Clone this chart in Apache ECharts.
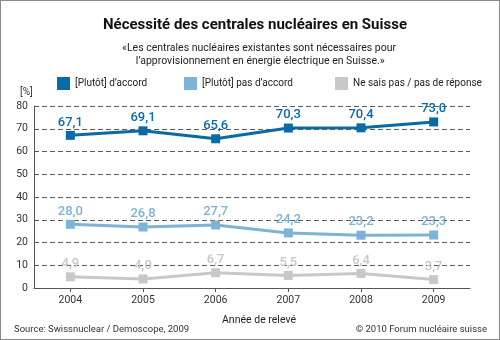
<!DOCTYPE html>
<html>
<head>
<meta charset="utf-8">
<script src="https://cdn.jsdelivr.net/npm/echarts@6/dist/echarts.min.js"></script>
<style>
  html, body { margin: 0; padding: 0; background: #fff; }
  #frame { width: 500px; height: 340px; box-sizing: border-box; border: 1px solid #8a8a8a; position: relative; }
  #chart { position: absolute; left: -1px; top: -1px; width: 500px; height: 340px; }
</style>
</head>
<body>
<div id="frame"><div id="chart"></div></div>
<script>
// Survey years
const years = ['2004', '2005', '2006', '2007', '2008', '2009'];
// Share of respondents in percent
const agree = [67.1, 69.1, 65.6, 70.3, 70.4, 73.0];
const disagree = [28.0, 26.8, 27.7, 24.2, 23.2, 23.3];
const noAnswer = [4.9, 4.0, 6.7, 5.5, 6.4, 3.7];
// Y axis ticks
const yTicks = [0, 10, 20, 30, 40, 50, 60, 70, 80];

const seriesNames = ['[Plutôt] d\u2019accord', '[Plutôt] pas d\u2019accord', 'Ne sais pas / pas de réponse'];
const colors = ['#0a6aa5', '#7cb3d7', '#c8c8c8'];
const FONT = 'Roboto, "DejaVu Sans", sans-serif';

const chart = echarts.init(document.getElementById('chart'), null, { renderer: 'canvas' });

function lineSeries(name, data, color) {
  return {
    name: name,
    type: 'line',
    data: data,
    symbol: 'rect',
    symbolSize: 9,
    lineStyle: { color: color, width: 3 },
    itemStyle: { color: color },
    label: {
      show: true,
      position: 'top',
      distance: 2,
      color: color,
      fontFamily: FONT,
      fontSize: 13,
      fontWeight: 500,
      formatter: p => p.value.toFixed(1).replace('.', ',')
    },
    emphasis: { disabled: true },
    animation: false
  };
}

const legendLeft = [52, 179, 330];

chart.setOption({
  animation: false,
  textStyle: { fontFamily: FONT },
  title: [
    {
      text: 'Nécessité des centrales nucléaires en Suisse',
      left: 250, top: 13, textAlign: 'center',
      textStyle: { fontFamily: FONT, fontSize: 15, fontWeight: 'bold', color: '#111' }
    },
    {
      text: '\u00abLes centrales nucléaires existantes sont nécessaires pour\n l\u2019approvisionnement en énergie électrique en Suisse.\u00bb',
      left: 254, top: 37, textAlign: 'center',
      textStyle: { fontFamily: FONT, fontSize: 10.5, fontWeight: 'normal', color: '#222', lineHeight: 13 }
    },
    {
      text: '[%]',
      left: 15, top: 82,
      textStyle: { fontFamily: FONT, fontSize: 10, fontWeight: 'normal', color: '#333' }
    },
    {
      text: 'Année de relevé',
      left: 254, top: 310, textAlign: 'center',
      textStyle: { fontFamily: FONT, fontSize: 10.5, fontWeight: 'normal', color: '#222' }
    },
    {
      text: 'Source: Swissnuclear / Demoscope, 2009',
      left: 9, top: 320,
      textStyle: { fontFamily: FONT, fontSize: 9.5, fontWeight: 'normal', color: '#333' }
    },
    {
      text: '\u00a9 2010 Forum nucléaire suisse',
      right: 8, top: 320,
      textStyle: { fontFamily: FONT, fontSize: 9.5, fontWeight: 'normal', color: '#333' }
    }
  ],
  legend: seriesNames.map((n, i) => ({
    data: [n],
    left: legendLeft[i],
    top: 72,
    icon: 'rect',
    itemWidth: 13,
    itemHeight: 13,
    itemGap: 5,
    selectedMode: false,
    textStyle: { fontFamily: FONT, fontSize: 10, color: '#222', padding: [0, 0, 0, 0] }
  })),
  grid: { left: 34, right: 30, top: 106, bottom: 52, containLabel: false },
  xAxis: {
    type: 'category',
    data: years,
    boundaryGap: true,
    axisLine: { lineStyle: { color: '#555', width: 1 } },
    axisTick: { show: true, alignWithLabel: true, length: 4, lineStyle: { color: '#555' } },
    axisLabel: { color: '#333', fontSize: 10.5, fontFamily: FONT, margin: 7 }
  },
  yAxis: {
    type: 'value',
    min: yTicks[0],
    max: yTicks[yTicks.length - 1],
    interval: 10,
    axisLine: { show: true, lineStyle: { color: '#555', width: 1 } },
    axisTick: { show: true, inside: true, length: 3, lineStyle: { color: '#555' } },
    axisLabel: { color: '#333', fontSize: 10.5, fontFamily: FONT, margin: 6 },
    splitLine: { show: true, lineStyle: { color: '#5a5a5a', type: [5, 3], width: 1 } }
  },
  series: [
    lineSeries(seriesNames[2], noAnswer, colors[2]),
    lineSeries(seriesNames[1], disagree, colors[1]),
    lineSeries(seriesNames[0], agree, colors[0])
  ]
});
</script>
</body>
</html>
